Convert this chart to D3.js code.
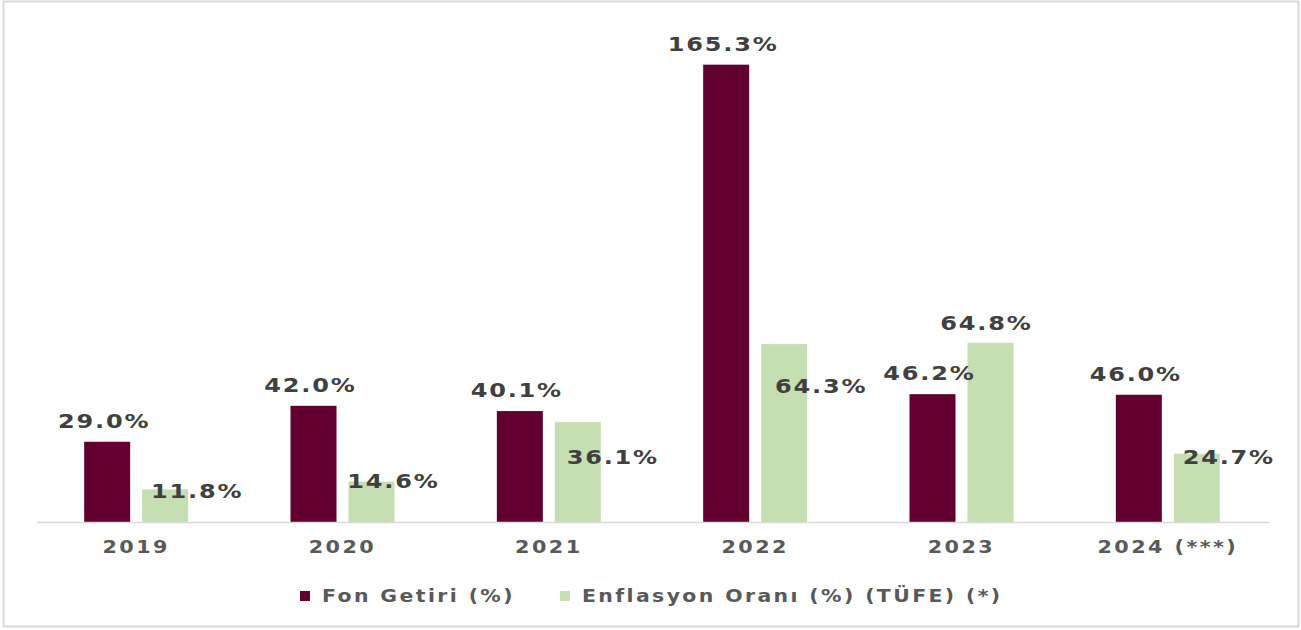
<!DOCTYPE html>
<html>
<head>
<meta charset="utf-8">
<script src="https://cdn.jsdelivr.net/npm/d3@7"></script>
<style>
  html, body { margin: 0; padding: 0; background: #fff; }
  #chart text { font-family: "DejaVu Sans", Verdana, sans-serif; font-weight: bold; fill: #404040; }
</style>
</head>
<body>
<div id="chart"></div>
<script>
/* DATA */
const years = ["2019", "2020", "2021", "2022", "2023", "2024 (***)"];
const fonGetiri = [29.0, 42.0, 40.1, 165.3, 46.2, 46.0];
const enflasyon = [11.8, 14.6, 36.1, 64.3, 64.8, 24.7];
const seriesNames = ["Fon Getiri (%)", "Enflasyon Oranı (%) (TÜFE) (*)"];

// hand-placed label nudges for the inflation bars (as in the original)
const greenLabelDx = [32, 22, 35, 37, -4, 32];
const greenLabelDy = [22, 20, 56, 63, 1, 24];

const colors = ["#620030", "#c5dfb2"];

const W = 1301, H = 630;
const baseline = 522;

// the original text is drawn a bit wider than normal
function stretch(sel, factor) {
  sel.each(function () {
    const len = this.getComputedTextLength();
    d3.select(this)
      .attr("textLength", len * factor)
      .attr("lengthAdjust", "spacingAndGlyphs");
  });
}

const svg = d3.select("#chart").append("svg")
  .attr("width", W).attr("height", H);

// outer frame
svg.append("rect")
  .attr("x", 3.5).attr("y", 1.5)
  .attr("width", W - 6).attr("height", H - 5)
  .attr("fill", "none").attr("stroke", "#d9d9d9").attr("stroke-width", 2);

/* SCALES */
const x0 = d3.scaleBand().domain(years).range([33, 1271]).padding(0);
const x1 = d3.scaleBand().domain([0, 1])
  .range([x0.bandwidth() / 2 - 52, x0.bandwidth() / 2 + 52])
  .paddingInner(0.2069);
const y = d3.scaleLinear().domain([0, 180]).range([baseline, 24]);

const rows = years.map((yr, i) => ({ yr, i, vals: [fonGetiri[i], enflasyon[i]] }));

/* BARS */
const groups = svg.append("g").selectAll("g")
  .data(rows).enter().append("g")
  .attr("transform", (d) => `translate(${x0(d.yr)},0)`);

groups.selectAll("rect")
  .data((d) => d.vals.map((v, s) => ({ v, s, i: d.i })))
  .enter().append("rect")
  .attr("x", (d) => x1(d.s))
  .attr("width", x1.bandwidth())
  .attr("y", (d) => y(d.v))
  .attr("height", (d) => baseline - y(d.v))
  .attr("fill", (d) => colors[d.s]);

// value labels
groups.selectAll("text.val")
  .data((d) => d.vals.map((v, s) => ({ v, s, i: d.i })))
  .enter().append("text")
  .attr("class", "val")
  .attr("x", (d) => x1(d.s) + x1.bandwidth() / 2 + (d.s === 1 ? greenLabelDx[d.i] : -3))
  .attr("y", (d) => y(d.v) - 21 + (d.s === 1 ? greenLabelDy[d.i] : 0))
  .attr("dy", "0.36em")
  .attr("text-anchor", "middle")
  .style("font-size", "20px")
  .style("letter-spacing", "1.5px")
  .text((d) => d.v.toFixed(1) + "%")
  .call(stretch, 1.2);

/* AXIS */
const xAxis = svg.append("g")
  .attr("transform", `translate(0,${baseline})`)
  .call(d3.axisBottom(x0).tickSize(0).tickPadding(19));
xAxis.select(".domain").attr("stroke", "#d9d9d9").attr("stroke-width", 1.5)
  .attr("d", `M37,0.5H1269`);
xAxis.selectAll(".tick text")
  .style("font-size", "17px")
  .style("letter-spacing", "2px")
  .style("fill", "#595959")
  .call(stretch, 1.22);

/* LEGEND */
const legendX = [300, 560];
const legend = svg.append("g").selectAll("g")
  .data(seriesNames).enter().append("g")
  .attr("transform", (d, i) => `translate(${legendX[i]},596)`);
legend.append("rect")
  .attr("x", 0).attr("y", -5)
  .attr("width", 10).attr("height", 10)
  .attr("fill", (d, i) => colors[i]);
legend.append("text")
  .attr("x", 22).attr("dy", "0.36em")
  .style("font-size", "17px")
  .style("letter-spacing", "2px")
  .style("fill", "#595959")
  .text((d) => d)
  .call(stretch, 1.2);
</script>
</body>
</html>
